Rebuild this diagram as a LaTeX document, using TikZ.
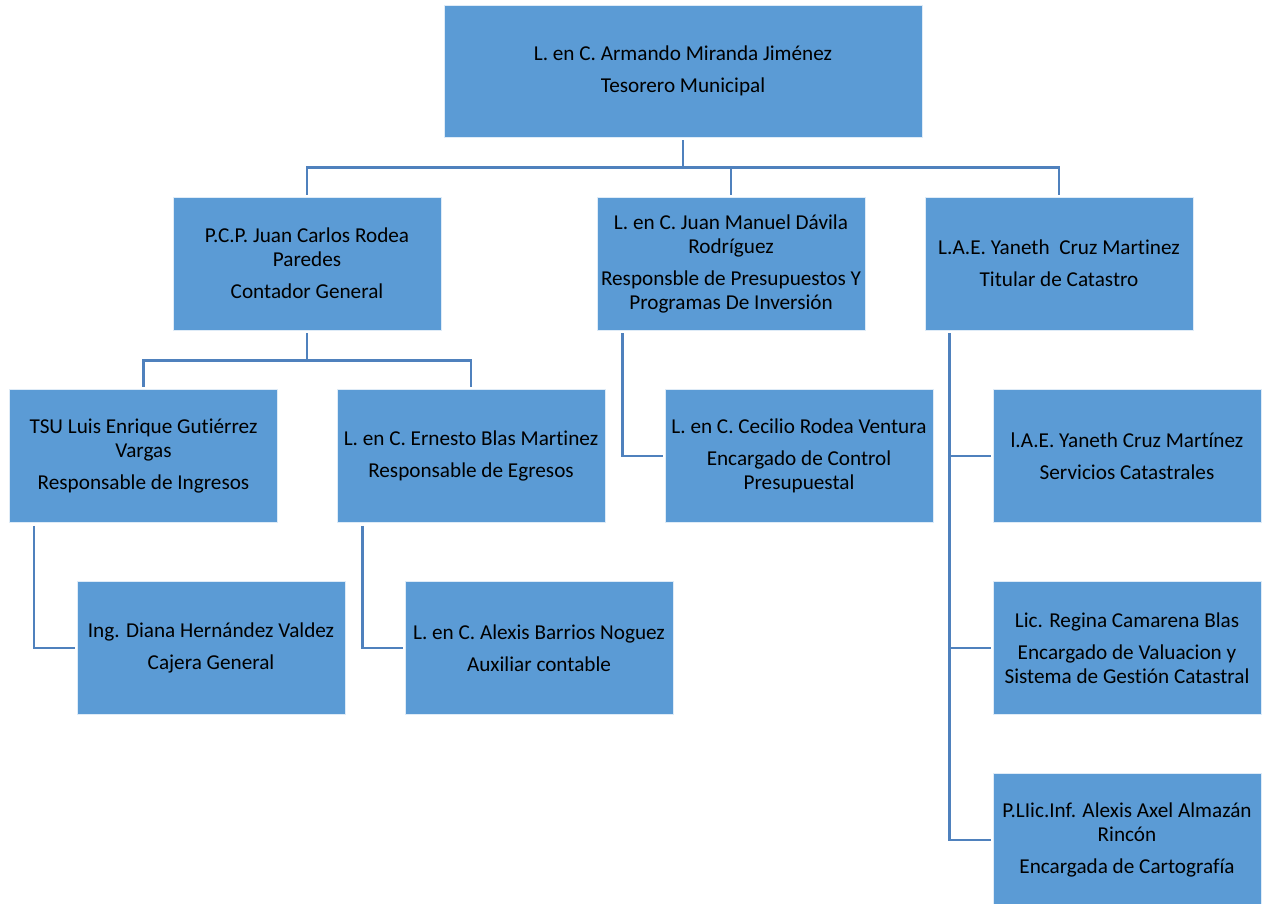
\documentclass[tikz,border=0pt]{standalone}
\usepackage{fontspec}
\setmainfont{Carlito}[Ligatures=NoCommon]
\definecolor{boxfill}{HTML}{5B9BD5}
\definecolor{linecol}{HTML}{4F81BD}
\tikzset{
  orgbox/.style={rectangle, fill=boxfill, draw=white!80!boxfill, line width=0.8pt,
    minimum width=268pt, minimum height=133pt, inner sep=0pt, align=center,
    font=\fontsize{21.2}{24}\selectfont, text=black,
    execute at begin node={\rule{0pt}{19pt}}},
  conn/.style={draw=linecol, line width=2.6pt, shorten <=3pt, shorten >=2pt}
}
\begin{document}
\begin{tikzpicture}[x=1pt,y=-1pt]
\useasboundingbox (0,0) rectangle (1263,903);
\fill[white] (0,0) rectangle (1263,903);
% nodes
\node[orgbox, minimum width=478pt, minimum height=132pt] (top) at (683,71) {L. en C. Armando Miranda Jiménez\\[8pt]Tesorero Municipal};
\node[orgbox] (A) at (307,263.5) {P.C.P. Juan Carlos Rodea\\Paredes\\[8pt]Contador General};
\node[orgbox] (B) at (731,263.5) {L. en C. Juan Manuel Dávila\\Rodríguez\\[8pt]Responsble de Presupuestos Y\\Programas De Inversión};
\node[orgbox] (C) at (1059,263.5) {L.A.E. Yaneth\ \ Cruz Martinez\\[8pt]Titular de Catastro};
\node[orgbox] (D) at (143.5,456) {TSU Luis Enrique Gutiérrez\\Vargas\\[8pt]Responsable de Ingresos};
\node[orgbox] (E) at (471,456) {L. en C. Ernesto Blas Martinez\\[8pt]Responsable de Egresos};
\node[orgbox] (F) at (799,456) {L. en C. Cecilio Rodea Ventura\\[8pt]Encargado de Control\\Presupuestal};
\node[orgbox] (G) at (1127,456) {l.A.E. Yaneth Cruz Martínez\\[8pt]Servicios Catastrales};
\node[orgbox] (H) at (211,648) {Ing. Diana Hernández Valdez\\[8pt]Cajera General};
\node[orgbox] (I) at (539,648) {L. en C. Alexis Barrios Noguez\\[8pt]Auxiliar contable};
\node[orgbox] (J) at (1127,648) {Lic. Regina Camarena Blas\\[8pt]Encargado de Valuacion y\\Sistema de Gestión Catastral};
\node[orgbox] (K) at (1127,840) {P.LIic.Inf. Alexis Axel Almazán\\Rincón\\[8pt]Encargada de Cartografía};
% connectors
\draw[conn] (top.south) -- ++(0,30) -| (A.north);
\draw[conn] (top.south) -- ++(0,30) -| (B.north);
\draw[conn] (top.south) -- ++(0,30) -| (C.north);
\draw[conn] (A.south) -- ++(0,30) -| (D.north);
\draw[conn] (A.south) -- ++(0,30) -| (E.north);
\draw[conn] ([xshift=25pt]D.south west) |- (H.west);
\draw[conn] ([xshift=26pt]E.south west) |- (I.west);
\draw[conn] ([xshift=26pt]B.south west) |- (F.west);
\draw[conn] ([xshift=25pt]C.south west) |- (G.west);
\draw[conn] ([xshift=25pt]C.south west) |- (J.west);
\draw[conn] ([xshift=25pt]C.south west) |- (K.west);
\end{tikzpicture}
\end{document}
